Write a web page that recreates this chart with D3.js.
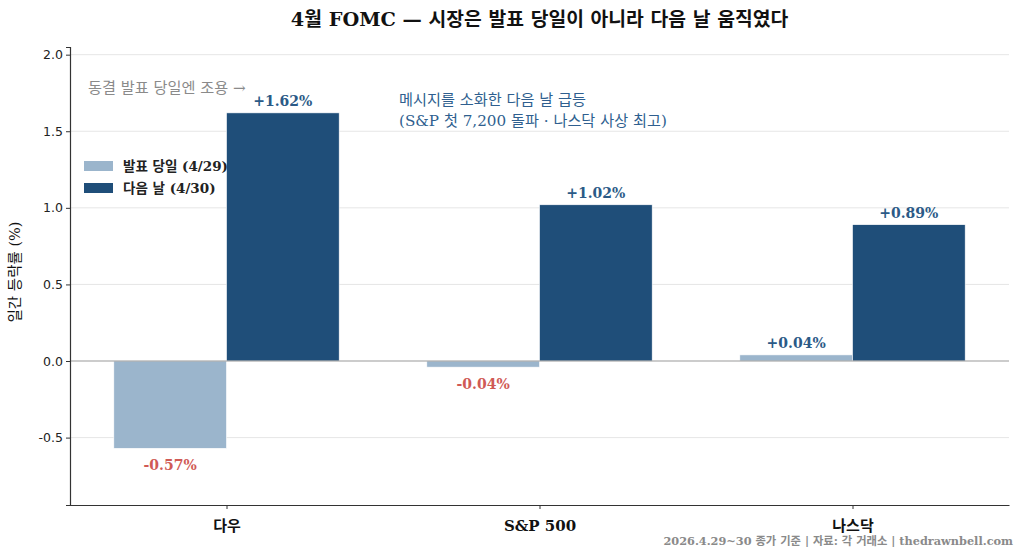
<!DOCTYPE html>
<html>
<head>
<meta charset="utf-8">
<script src="https://cdn.jsdelivr.net/npm/d3@7"></script>
<style>
    body { margin: 0; background: #fff; }
    svg { display: block; }
    .serif { font-family: "DejaVu Serif", "Noto Sans CJK KR", serif; }
    .sans { font-family: "DejaVu Sans", "Noto Sans CJK KR", sans-serif; }
</style>
</head>
<body>
<div id="chart"></div>
<script>
// data
const categories = ["다우", "S&P 500", "나스닥"];
const seriesNames = ["발표 당일 (4/29)", "다음 날 (4/30)"];
const dayOf = [-0.57, -0.04, 0.04];
const dayAfter = [1.62, 1.02, 0.89];
const yTicks = [-0.5, 0.0, 0.5, 1.0, 1.5, 2.0];

const width = 1024;
const height = 558;
const margins = { top: 47, left: 70, right: 15, bottom: 53 };
const barShare = 0.36;

const colors = ["#9bb5cc", "#1f4e79"];
const posColor = "#2b5a87";
const negColor = "#d05a55";

function fmt(v) {
    return (v > 0 ? "+" : v < 0 ? "-" : "") + Math.abs(v).toFixed(2) + "%";
}

const svg = d3.select("#chart")
    .append("svg")
        .attr("width", width)
        .attr("height", height);

const plotW = width - margins.left - margins.right;
const plotH = height - margins.top - margins.bottom;

const x = d3.scaleLinear()
    .domain([-0.5, categories.length - 0.5])
    .range([margins.left, margins.left + plotW]);

const y = d3.scaleLinear()
    .domain([-0.94, 2.05])
    .range([margins.top + plotH, margins.top]);

const unit = x(1) - x(0);

// grid
svg.append("g")
    .selectAll("line")
    .data(yTicks.filter(t => t !== 0))
    .join("line")
        .attr("x1", margins.left)
        .attr("x2", margins.left + plotW)
        .attr("y1", d => y(d))
        .attr("y2", d => y(d))
        .attr("stroke", "#e6e6e6")
        .attr("stroke-width", 1);

// bars
const series = [dayOf, dayAfter];
series.forEach((vals, s) => {
    svg.append("g")
        .selectAll("rect")
        .data(vals)
        .join("rect")
            .attr("x", (d, i) => x(i) + (s === 0 ? -barShare * unit : 0))
            .attr("y", d => y(Math.max(0, d)))
            .attr("width", barShare * unit)
            .attr("height", d => Math.abs(y(d) - y(0)))
            .attr("fill", colors[s])
            .attr("stroke", "#ffffff")
            .attr("stroke-width", 0.6);

    svg.append("g")
        .selectAll("text")
        .data(vals)
        .join("text")
            .attr("class", "serif")
            .attr("x", (d, i) => x(i) + (s === 0 ? -0.5 : 0.5) * barShare * unit)
            .attr("y", d => d >= 0 ? y(d) - 7 : y(d) + 22)
            .attr("text-anchor", "middle")
            .attr("font-size", 14)
            .attr("font-weight", 600)
            .attr("fill", d => d >= 0 ? posColor : negColor)
            .text(d => fmt(d));
});

// zero line
svg.append("line")
    .attr("x1", margins.left)
    .attr("x2", margins.left + plotW)
    .attr("y1", y(0))
    .attr("y2", y(0))
    .attr("stroke", "#999")
    .attr("stroke-width", 1.2);

// y axis
const yAxis = svg.append("g")
    .attr("transform", `translate(${margins.left},0)`)
    .call(d3.axisLeft(y).tickValues(yTicks).tickFormat(d3.format(".1f")).tickSize(4));
yAxis.selectAll("text")
    .attr("class", "sans")
    .attr("font-size", 12.5)
    .attr("fill", "#222")
    .text(d => d3.format(".1f")(d).replace("−", "-"));
yAxis.select(".domain").attr("stroke", "#333").attr("stroke-width", 1.2);
yAxis.selectAll(".tick line").attr("stroke", "#333");

// x axis
const xAxis = svg.append("g")
    .attr("transform", `translate(0,${margins.top + plotH})`)
    .call(d3.axisBottom(x).tickValues(d3.range(categories.length)).tickFormat(i => categories[i]).tickSize(4).tickSizeOuter(0));
xAxis.selectAll("text")
    .attr("class", "serif")
    .attr("font-size", 15)
    .attr("font-weight", 600)
    .attr("fill", "#111")
    .attr("dy", "1.25em");
xAxis.select(".domain").attr("stroke", "#333").attr("stroke-width", 1.2);
xAxis.selectAll(".tick line").attr("stroke", "#333");

// y label
svg.append("text")
    .attr("class", "serif")
    .attr("transform", `translate(20,${margins.top + plotH / 2 - 4}) rotate(-90)`)
    .attr("text-anchor", "middle")
    .attr("font-size", 14.5)
    .attr("fill", "#111")
    .text("일간 등락률 (%)");

// title
svg.append("text")
    .attr("class", "serif")
    .attr("x", margins.left + plotW / 2)
    .attr("y", 26)
    .attr("text-anchor", "middle")
    .attr("font-size", 19.3)
    .attr("font-weight", "bold")
    .attr("fill", "#111")
    .text("4월 FOMC — 시장은 발표 당일이 아니라 다음 날 움직였다");

// legend
const legend = svg.append("g")
    .attr("transform", `translate(84,161)`);
seriesNames.forEach((name, i) => {
    legend.append("rect")
        .attr("x", 0)
        .attr("y", i * 22)
        .attr("width", 29)
        .attr("height", 10)
        .attr("fill", colors[i]);
    legend.append("text")
        .attr("class", "serif")
        .attr("x", 39)
        .attr("y", i * 22 + 10)
        .attr("font-size", 13.5)
        .attr("font-weight", 600)
        .attr("fill", "#222")
        .text(name);
});

// annotations
svg.append("text")
    .attr("class", "serif")
    .attr("x", 88)
    .attr("y", 93)
    .attr("font-size", 15.2)
    .attr("fill", "#8a8a8a")
    .text("동결 발표 당일엔 조용 →");

const note = svg.append("text")
    .attr("class", "serif")
    .attr("font-size", 15.2)
    .attr("fill", "#2f5f8f");
note.append("tspan").attr("x", 399).attr("y", 105).text("메시지를 소화한 다음 날 급등");
note.append("tspan").attr("x", 399).attr("y", 126).text("(S&P 첫 7,200 돌파 · 나스닥 사상 최고)");

// footer
svg.append("text")
    .attr("class", "serif")
    .attr("x", 1013)
    .attr("y", 545)
    .attr("text-anchor", "end")
    .attr("font-size", 11.3)
    .attr("font-weight", 600)
    .attr("fill", "#8a8a8a")
    .text("2026.4.29~30 종가 기준 | 자료: 각 거래소 | thedrawnbell.com");
</script>
</body>
</html>
